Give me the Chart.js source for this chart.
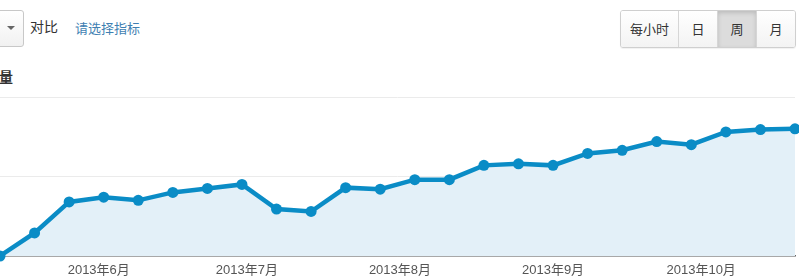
<!DOCTYPE html>
<html>
<head>
<meta charset="utf-8">
<script src="https://cdn.jsdelivr.net/npm/chart.js@4"></script>
<style>
  html, body { margin:0; padding:0; background:#fff; width:799px; height:278px; overflow:hidden; position:relative;
    font-family:"Liberation Sans","Noto Sans CJK SC",sans-serif; }
  #wrap { position:absolute; left:0; top:0; width:799px; height:278px; }
  .dd { position:absolute; left:-30px; top:10px; width:52px; height:35px; border:1px solid #c8c8c8; border-radius:3px;
    background:linear-gradient(#ffffff,#f1f1f1); box-sizing:content-box; }
  .caret { position:absolute; top:15px; width:0; height:0; border-left:4px solid transparent; border-right:4px solid transparent; border-top:4px solid #666; }
  .cmp { position:absolute; left:30px; top:16px; font-size:14px; color:#333; font-family:"Noto Sans CJK SC",sans-serif; line-height:20px; }
  .pick { position:absolute; left:75px; top:18px; font-size:13px; color:#3f7fb2; font-family:"Noto Sans CJK SC",sans-serif; line-height:20px; }
  .metric { position:absolute; left:-1px; top:66px; font-size:14px; color:#333; font-weight:bold; font-family:"Noto Sans CJK SC",sans-serif; line-height:20px; }
  .grp { position:absolute; left:620px; top:10px; height:36px; border:1px solid #cfcfcf; border-radius:3px; display:flex; overflow:hidden;
    box-shadow:0 1px 1px rgba(0,0,0,0.06); }
  .grp div { height:36px; line-height:36px; text-align:center; font-size:13px; color:#333; font-family:"Noto Sans CJK SC",sans-serif;
    background:linear-gradient(#ffffff,#f3f3f3); border-left:1px solid #d6d6d6; }
  .grp div:first-child { border-left:none; }
  .grp div.on { background:#dcdcdc; box-shadow:inset 0 2px 4px rgba(0,0,0,0.15); }
  canvas { position:absolute; left:0; top:0; }
</style>
</head>
<body>
<div id="wrap">
  <div class="dd"><div class="caret" style="left:36px;"></div></div>
  <div class="cmp">对比</div>
  <div class="pick">请选择指标</div>
  <div class="grp">
    <div style="width:57px;">每小时</div>
    <div style="width:38px;">日</div>
    <div class="on" style="width:38px;">周</div>
    <div style="width:38px;">月</div>
  </div>
  <div class="metric">量</div>
  <canvas id="c" width="799" height="278"></canvas>
</div>
<script>
// ---- data ----
const weekStarts = [
  '2013-05-12','2013-05-19','2013-05-26','2013-06-02','2013-06-09','2013-06-16',
  '2013-06-23','2013-06-30','2013-07-07','2013-07-14','2013-07-21','2013-07-28',
  '2013-08-04','2013-08-11','2013-08-18','2013-08-25','2013-09-01','2013-09-08',
  '2013-09-15','2013-09-22','2013-09-29','2013-10-06','2013-10-13','2013-10-20'
];
const weeklyValues = [
  0, 290, 680, 740, 700, 800,
  850, 900, 590, 560, 860, 840,
  960, 960, 1140, 1160, 1140, 1290,
  1330, 1440, 1400, 1560, 1590, 1600
];
const monthTickDates = ['2013-06-01','2013-07-01','2013-08-01','2013-09-01','2013-10-01'];
const monthTickLabels = ['2013年6月','2013年7月','2013年8月','2013年9月','2013年10月'];
const yTicks = [0, 1000, 2000];

// ---- build ----
const DAY = 86400000;
const t0 = Date.parse(weekStarts[0] + 'T00:00:00Z');
const dayOf = s => Math.round((Date.parse(s + 'T00:00:00Z') - t0) / DAY);
const points = weekStarts.map((d, i) => ({ x: dayOf(d), y: weeklyValues[i] }));
const monthTickPos = monthTickDates.map(dayOf);
const tickLabelMap = {};
monthTickPos.forEach((p, i) => tickLabelMap[p] = monthTickLabels[i]);

const blue = '#0a8cc6';
new Chart(document.getElementById('c'), {
  type: 'line',
  data: {
    datasets: [{
      data: points,
      borderColor: blue,
      backgroundColor: '#e3f0f8',
      fill: 'origin',
      borderWidth: 4.5,
      pointRadius: 5.5,
      pointBackgroundColor: blue,
      pointBorderColor: blue,
      pointBorderWidth: 0,
      tension: 0,
      clip: false
    }]
  },
  options: {
    responsive: false,
    animation: false,
    devicePixelRatio: 1,
    layout: { autoPadding: false, padding: { top: 97, left: 0, right: 4, bottom: 0 } },
    plugins: { legend: { display: false }, tooltip: { enabled: false } },
    scales: {
      x: {
        type: 'linear',
        min: 0,
        max: points[points.length - 1].x,
        grid: { display: false, drawTicks: false },
        border: { display: true, color: '#666', width: 1.5 },
        afterBuildTicks: s => { s.ticks = monthTickPos.map(v => ({ value: v })); },
        afterFit: s => { s.height = 278 - 256; },
        ticks: {
          autoSkip: false,
          maxRotation: 0,
          padding: 7,
          color: '#555',
          font: { size: 13, family: '"Liberation Sans","Noto Sans CJK SC",sans-serif' },
          callback: v => tickLabelMap[v] || ''
        }
      },
      y: {
        min: 0,
        max: 2000,
        afterBuildTicks: s => { s.ticks = yTicks.map(v => ({ value: v })); },
        afterFit: s => { s.width = 0; },
        ticks: { display: false },
        grid: { color: '#ebebeb', lineWidth: 1, drawTicks: false },
        border: { display: false }
      }
    }
  }
});
</script>
</body>
</html>
